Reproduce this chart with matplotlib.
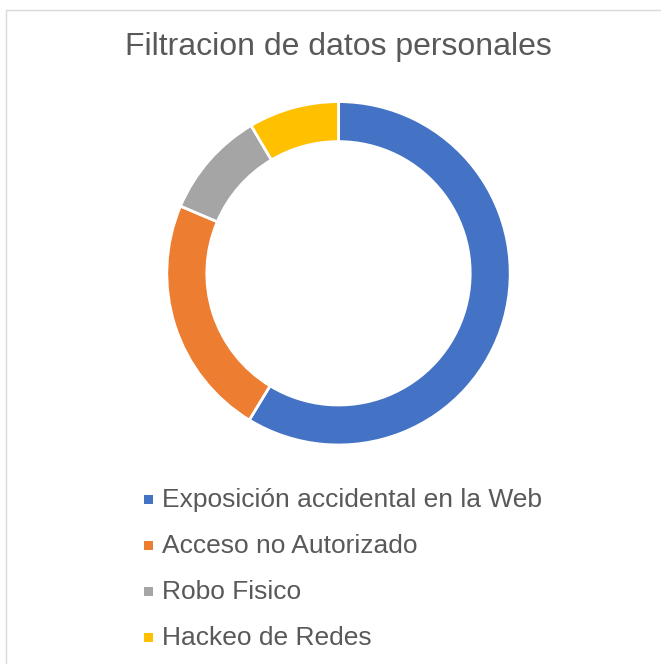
import matplotlib
matplotlib.use("Agg")
import matplotlib.pyplot as plt
from matplotlib.patches import Rectangle

title = "Filtracion de datos personales"
labels = ["Exposición accidental en la Web", "Acceso no Autorizado", "Robo Fisico", "Hackeo de Redes"]
values = [58.7, 22.7, 10.1, 8.5]
colors = ["#4472C4", "#ED7D31", "#A5A5A5", "#FFC000"]

W, H = 661, 664
fig = plt.figure(figsize=(W / 100, H / 100), dpi=100)
fig.patch.set_facecolor("white")

# chart frame (cropped at right/bottom)
fig.patches.append(Rectangle((6 / W, -0.5), 2.0, (H - 10) / H + 0.5, transform=fig.transFigure,
                             fill=False, edgecolor="#D9D9D9", linewidth=1.0))

cx, cy, r = 338.5, 273.3, 171.7
ax = fig.add_axes([(cx - r) / W, (H - cy - r) / H, 2 * r / W, 2 * r / H])
ax.pie(values, colors=colors, startangle=90, counterclock=False, radius=1.0,
       wedgeprops=dict(width=0.233, edgecolor="white", linewidth=2.0))
ax.set_xlim(-1, 1)
ax.set_ylim(-1, 1)
ax.set_aspect("equal")
ax.axis("off")

fig.text(338.5 / W, 1 - 55 / H, title, ha="center", va="baseline",
         fontsize=23, color="#595959", family="Liberation Sans")

baselines = [507, 553, 599, 645]
for lab, col, b in zip(labels, colors, baselines):
    s = 8.5
    fig.patches.append(Rectangle(((148.5 - s / 2) / W, 1 - (b - 7.5 + s / 2) / H), s / W, s / H,
                                 transform=fig.transFigure, facecolor=col, edgecolor="none"))
    fig.text(162 / W, 1 - b / H, lab, ha="left", va="baseline", fontsize=19,
             color="#595959", family="Liberation Sans")

fig.savefig("out.png", dpi=100)
